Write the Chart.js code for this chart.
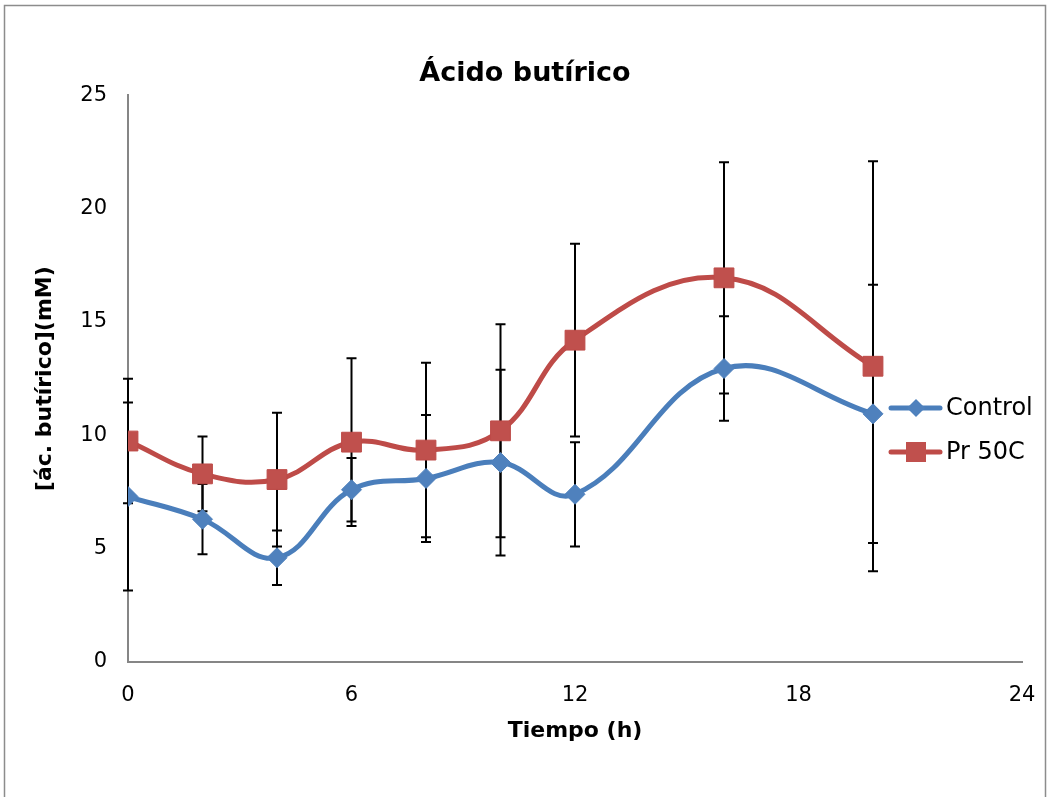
<!DOCTYPE html>
<html>
<head>
  <meta charset="utf-8">
  <title>Ácido butírico</title>
  <script src="https://cdn.jsdelivr.net/npm/chart.js@4/dist/chart.umd.min.js"></script>
  <style>
    html, body { margin: 0; padding: 0; background: #ffffff; }
    canvas { display: block; }
  </style>
</head>
<body>
<canvas id="chartJSContainer" width="1050" height="797"></canvas>
<script>
// data
var hours      = [0, 2, 4, 6, 8, 10, 12, 16, 20];
var control    = [7.3, 6.3, 4.6, 7.6, 8.1, 8.8, 7.4, 12.95, 10.95];
var controlErr = [4.15, 1.55, 1.2, 1.4, 2.8, 4.1, 2.3, 2.3, 5.7];
var pr50       = [9.75, 8.3, 8.05, 9.7, 9.35, 10.2, 14.2, 16.95, 13.05];
var pr50Err    = [2.75, 1.65, 2.95, 3.7, 3.85, 4.7, 4.25, 5.1, 9.05];
var xTicks     = [0, 6, 12, 18, 24];
var yTicks     = [0, 5, 10, 15, 20, 25];

var blueLine = "#4A7EBB";
var blueFill = "#4F81BD";
var redLine  = "#BE4B48";
var redFill  = "#C0504D";
var axisGray = "#868686";
var fontName = "'DejaVu Sans', Verdana, sans-serif";

function toPoints(xs, ys){
    var pts = [];
    for(var i=0;i<xs.length;i++){
        pts.push({x: xs[i], y: ys[i]});
    }
    return pts;
}

// outer frame of the chart object
var framePlugin = {
    id: 'frame',
    beforeDraw: function(chart){
        var ctx = chart.ctx;
        ctx.save();
        ctx.strokeStyle = "#8c8c8c";
        ctx.lineWidth = 1.5;
        ctx.beginPath();
        ctx.moveTo(4.5, 900);
        ctx.lineTo(4.5, 5.5);
        ctx.lineTo(1045.5, 5.5);
        ctx.lineTo(1045.5, 900);
        ctx.stroke();
        ctx.restore();
    }
};

// vertical error bars, drawn under the lines
var errorBarPlugin = {
    id: 'errorBars',
    beforeDatasetsDraw: function(chart){
        var ctx = chart.ctx;
        var xs = chart.scales.x;
        var ys = chart.scales.y;
        var errs = [controlErr, pr50Err];
        ctx.save();
        ctx.strokeStyle = "#000000";
        ctx.lineWidth = 2;
        chart.data.datasets.forEach(function(ds, d){
            ds.data.forEach(function(p, i){
                var px = xs.getPixelForValue(p.x);
                var top = ys.getPixelForValue(p.y + errs[d][i]);
                var bot = ys.getPixelForValue(p.y - errs[d][i]);
                ctx.beginPath();
                ctx.moveTo(px, top);
                ctx.lineTo(px, bot);
                ctx.moveTo(px - 5, top);
                ctx.lineTo(px + 5, top);
                ctx.moveTo(px - 5, bot);
                ctx.lineTo(px + 5, bot);
                ctx.stroke();
            });
        });
        ctx.restore();
    }
};

// excel-like legend: line + marker + text
var legendPlugin = {
    id: 'sideLegend',
    afterDraw: function(chart){
        var ctx = chart.ctx;
        var items = [
            {y: 408, color: blueLine, fill: blueFill, shape: 'diamond', text: chart.data.datasets[0].label},
            {y: 452, color: redLine, fill: redFill, shape: 'square', text: chart.data.datasets[1].label}
        ];
        ctx.save();
        items.forEach(function(it){
            ctx.strokeStyle = it.color;
            ctx.lineWidth = 5;
            ctx.lineCap = 'round';
            ctx.beginPath();
            ctx.moveTo(891, it.y);
            ctx.lineTo(940, it.y);
            ctx.stroke();
            ctx.fillStyle = it.fill;
            ctx.beginPath();
            if(it.shape == 'diamond'){
                ctx.moveTo(916 - 9, it.y);
                ctx.lineTo(916, it.y - 9);
                ctx.lineTo(916 + 9, it.y);
                ctx.lineTo(916, it.y + 9);
                ctx.closePath();
            }
            else{
                ctx.rect(916 - 10, it.y - 10, 20, 20);
            }
            ctx.fill();
            ctx.fillStyle = "#000000";
            ctx.font = "24px " + fontName;
            ctx.textAlign = 'left';
            ctx.textBaseline = 'middle';
            ctx.fillText(it.text, 946, it.y + 1);
        });
        ctx.restore();
    }
};

var ctx = document.getElementById('chartJSContainer').getContext('2d');
var chart = new Chart(ctx, {
    type: 'line',
    data: {
        datasets: [
            {
                label: "Control",
                data: toPoints(hours, control),
                borderColor: blueLine,
                backgroundColor: blueFill,
                borderWidth: 5,
                tension: 0.4,
                fill: false,
                pointStyle: 'rectRot',
                pointRadius: 10,
                pointBorderWidth: 1,
                pointBorderColor: blueFill,
                pointBackgroundColor: blueFill
            },
            {
                label: "Pr 50C",
                data: toPoints(hours, pr50),
                borderColor: redLine,
                backgroundColor: redFill,
                borderWidth: 5,
                tension: 0.4,
                fill: false,
                pointStyle: 'rect',
                pointRadius: 14,
                pointBorderWidth: 1,
                pointBorderColor: redLine,
                pointBackgroundColor: redFill
            }
        ]
    },
    options: {
        responsive: false,
        animation: false,
        layout: {
            padding: { left: 0, right: 0, top: 0, bottom: 0 }
        },
        scales: {
            x: {
                type: 'linear',
                min: 0,
                max: 24,
                afterBuildTicks: function(scale){
                    scale.ticks = xTicks.map(function(v){ return {value: v}; });
                },
                afterFit: function(scale){
                    scale.height = 135;
                    // labels at the ends may hang over, like in excel
                    scale.paddingLeft = 0;
                    scale.paddingRight = 0;
                },
                grid: { display: false, drawTicks: false },
                border: { display: true, color: axisGray, width: 2 },
                ticks: {
                    color: "#000000",
                    padding: 21,
                    maxRotation: 0,
                    font: { family: fontName, size: 21 }
                },
                title: {
                    display: true,
                    text: "Tiempo (h)",
                    color: "#000000",
                    padding: { top: 0, bottom: 53 },
                    font: { family: fontName, size: 22, weight: 'bold' }
                }
            },
            y: {
                type: 'linear',
                min: 0,
                max: 25,
                afterBuildTicks: function(scale){
                    scale.ticks = yTicks.map(function(v){ return {value: v}; });
                },
                afterFit: function(scale){ scale.width = 128; },
                grid: { display: false, drawTicks: false },
                border: { display: true, color: axisGray, width: 2 },
                ticks: {
                    color: "#000000",
                    padding: 21,
                    font: { family: fontName, size: 21 }
                },
                title: {
                    display: true,
                    text: "[ác. butírico](mM)",
                    color: "#000000",
                    padding: { top: 32, bottom: 0 },
                    font: { family: fontName, size: 22, weight: 'bold' }
                }
            },
            // empty strip on the right so the plot ends where the reference does
            yRight: {
                type: 'linear',
                position: 'right',
                display: true,
                afterFit: function(scale){ scale.width = 28; },
                grid: { display: false, drawTicks: false },
                border: { display: false },
                ticks: { display: false }
            }
        },
        plugins: {
            legend: { display: false },
            tooltip: { enabled: false },
            title: {
                display: true,
                text: "Ácido butírico",
                color: "#000000",
                padding: { top: 58, bottom: 5 },
                font: { family: fontName, size: 27, weight: 'bold' }
            }
        }
    },
    plugins: [framePlugin, errorBarPlugin, legendPlugin]
});
</script>
</body>
</html>
